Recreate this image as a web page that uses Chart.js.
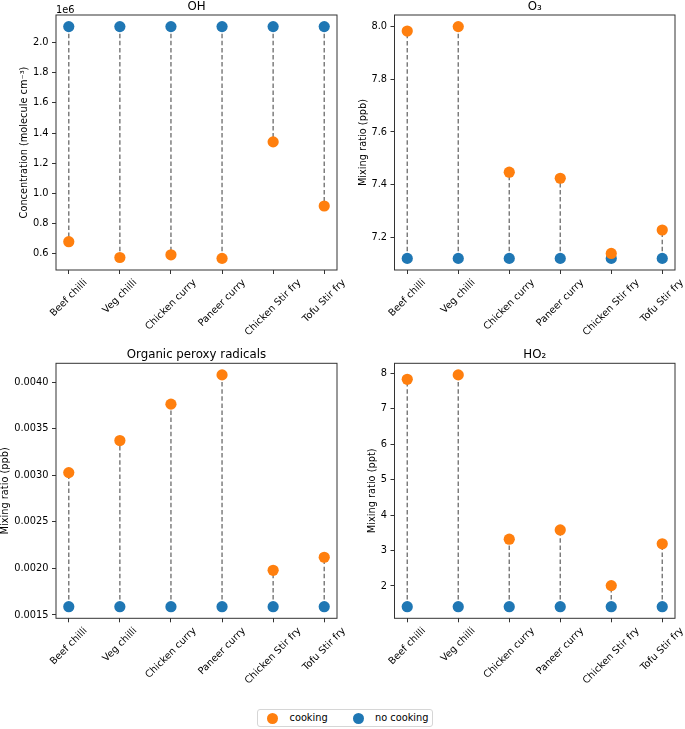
<!DOCTYPE html>
<html>
<head>
<meta charset="utf-8">
<script src="https://cdn.jsdelivr.net/npm/chart.js@4/dist/chart.umd.min.js"></script>
<style>
  html, body { margin:0; padding:0; background:#fff; }
  #wrap { position:relative; width:685px; height:729px; overflow:hidden; background:#fff; }
  canvas { position:absolute; }
  #legend { position:absolute; left:257px; top:709px; width:175.5px; height:17.5px; border:1px solid #d6d6d6; border-radius:3px; font-family:"DejaVu Sans"; font-size:9.8px; color:#000; box-sizing:border-box; }
  #legend .dot { position:absolute; width:11px; height:11px; border-radius:50%; top:2.5px; }
  #legend .lab { position:absolute; top:2px; line-height:12px; white-space:nowrap; }
</style>
</head>
<body>
<div id="wrap">
  <canvas id="c1" width="360" height="350" style="left:0px;top:0px"></canvas>
  <canvas id="c2" width="343" height="350" style="left:342px;top:0px"></canvas>
  <canvas id="c3" width="360" height="360" style="left:0px;top:340px"></canvas>
  <canvas id="c4" width="343" height="360" style="left:342px;top:340px"></canvas>
  <div id="legend">
    <div class="dot" style="left:9px;background:#ff7f0e"></div>
    <div class="lab" style="left:31.5px">cooking</div>
    <div class="dot" style="left:94.5px;background:#1f77b4"></div>
    <div class="lab" style="left:117px">no cooking</div>
  </div>
</div>
<script>
// ---- data ----
const categories = ['Beef chilli', 'Veg chilli', 'Chicken curry', 'Paneer curry', 'Chicken Stir fry', 'Tofu Stir fry'];

const ohCooking   = [0.678e6, 0.573e6, 0.591e6, 0.567e6, 1.341e6, 0.915e6];
const ohNoCooking = [2.107e6, 2.107e6, 2.107e6, 2.107e6, 2.107e6, 2.107e6];
const ohTicks     = [0.6e6, 0.8e6, 1.0e6, 1.2e6, 1.4e6, 1.6e6, 1.8e6, 2.0e6];

const o3Cooking   = [7.984, 8.001, 7.447, 7.424, 7.138, 7.227];
const o3NoCooking = [7.119, 7.119, 7.119, 7.119, 7.119, 7.119];
const o3Ticks     = [7.2, 7.4, 7.6, 7.8, 8.0];

const roxCooking   = [0.003029, 0.003373, 0.003764, 0.004078, 0.00198, 0.00212];
const roxNoCooking = [0.001589, 0.001589, 0.001589, 0.001589, 0.001589, 0.001589];
const roxTicks     = [0.0015, 0.0020, 0.0025, 0.0030, 0.0035, 0.0040];

const ho2Cooking   = [7.83, 7.955, 3.32, 3.58, 2.01, 3.19];
const ho2NoCooking = [1.415, 1.415, 1.415, 1.415, 1.415, 1.415];
const ho2Ticks     = [2, 3, 4, 5, 6, 7, 8];

// ---- styling ----
const FONT = '"DejaVu Sans"';
const TICK_SIZE = 9.8;
const TITLE_SIZE = 11.8;
const ORANGE = '#ff7f0e';
const BLUE = '#1f77b4';

const panelPlugin = {
  id: 'panelDeco',
  afterDraw(chart, args, opts) {
    const { ctx, chartArea: a } = chart;
    ctx.save();
    // frame
    ctx.strokeStyle = '#333';
    ctx.lineWidth = 1;
    ctx.strokeRect(a.left, a.top, a.right - a.left, a.bottom - a.top);
    // title
    ctx.fillStyle = '#000';
    ctx.font = TITLE_SIZE + 'px ' + FONT;
    ctx.textAlign = 'center';
    ctx.textBaseline = 'middle';
    ctx.fillText(opts.title, (a.left + a.right) / 2, a.top - 8.3);
    // offset text
    if (opts.offsetText) {
      ctx.font = TICK_SIZE + 'px ' + FONT;
      ctx.textAlign = 'left';
      ctx.textBaseline = 'alphabetic';
      ctx.fillText(opts.offsetText, a.left, a.top - 2.3);
    }
    // rotated x tick labels (centered on tick)
    const xs = chart.scales.x;
    ctx.font = TICK_SIZE + 'px ' + FONT;
    ctx.textAlign = 'center';
    ctx.textBaseline = 'middle';
    const lh = TICK_SIZE * 1.17;
    categories.forEach((c, i) => {
      const px = xs.getPixelForValue(i);
      const w = ctx.measureText(c).width;
      const H = (w + lh) * Math.SQRT1_2;
      ctx.save();
      ctx.translate(px, a.bottom + 7 + H / 2);
      ctx.rotate(-Math.PI / 4);
      ctx.fillText(c, 0, 0);
      ctx.restore();
    });
    ctx.restore();
  }
};

function makePanel(id, cfg) {
  const all = cfg.cooking.concat(cfg.noCooking);
  const lo = Math.min(...all), hi = Math.max(...all);
  const m = (hi - lo) * 0.05;
  const pts = arr => arr.map((v, i) => ({ x: i, y: v }));
  const dashPts = [];
  categories.forEach((c, i) => {
    dashPts.push({ x: i, y: cfg.noCooking[i] });
    dashPts.push({ x: i, y: cfg.cooking[i] });
    dashPts.push({ x: i, y: null });
  });
  return new Chart(document.getElementById(id), {
    type: 'scatter',
    data: {
      datasets: [
        { label: 'cooking', data: pts(cfg.cooking), backgroundColor: ORANGE, borderColor: ORANGE, borderWidth: 0, pointRadius: 5.6, pointHoverRadius: 5.6 },
        { label: 'no cooking', data: pts(cfg.noCooking), backgroundColor: BLUE, borderColor: BLUE, borderWidth: 0, pointRadius: 5.6, pointHoverRadius: 5.6 },
        { label: 'link', data: dashPts, showLine: true, spanGaps: false, borderColor: '#757575', borderWidth: 1.4, borderDash: [4.5, 2.6], pointRadius: 0, fill: false }
      ]
    },
    options: {
      responsive: false,
      animation: false,
      events: [],
      layout: { padding: cfg.padding },
      plugins: {
        legend: { display: false },
        tooltip: { enabled: false },
        title: { display: false },
        panelDeco: { title: cfg.title, offsetText: cfg.offsetText }
      },
      scales: {
        x: {
          type: 'linear',
          min: -0.25,
          max: 5.25,
          afterBuildTicks: s => { s.ticks = categories.map((c, i) => ({ value: i })); },
          afterFit: s => { s.height = cfg.xHeight; },
          ticks: { display: false },
          grid: { drawOnChartArea: false, drawTicks: true, tickLength: 4, tickColor: '#333', tickWidth: 1 },
          border: { display: false }
        },
        y: {
          type: 'linear',
          min: lo - m,
          max: hi + m,
          afterBuildTicks: s => { s.ticks = cfg.ticks.map(v => ({ value: v })); },
          afterFit: s => { s.width = cfg.yWidth; },
          ticks: { callback: cfg.fmt, font: { family: 'DejaVu Sans', size: TICK_SIZE }, color: '#000', padding: 3.5, autoSkip: false },
          grid: { drawOnChartArea: false, drawTicks: true, tickLength: 4, tickColor: '#333', tickWidth: 1 },
          border: { display: false },
          title: { display: true, text: cfg.yLabel, color: '#000', font: { family: 'DejaVu Sans', size: TICK_SIZE }, padding: { top: cfg.yTitlePad, bottom: 0 } }
        }
      }
    },
    plugins: [panelPlugin]
  });
}

makePanel('c1', {
  title: 'OH', offsetText: '1e6', yLabel: 'Concentration (molecule cm\u207B\u00B3)',
  cooking: ohCooking, noCooking: ohNoCooking, ticks: ohTicks,
  fmt: v => (v / 1e6).toFixed(1),
  padding: { left: 0, top: 15, right: 23, bottom: 0 }, yWidth: 56, xHeight: 80, yTitlePad: 18.1
});
makePanel('c2', {
  title: 'O\u2083', yLabel: 'Mixing ratio (ppb)',
  cooking: o3Cooking, noCooking: o3NoCooking, ticks: o3Ticks,
  fmt: v => v.toFixed(1),
  padding: { left: 0, top: 15, right: 10, bottom: 0 }, yWidth: 52.5, xHeight: 80, yTitlePad: 15.4
});
makePanel('c3', {
  title: 'Organic peroxy radicals', yLabel: 'Mixing ratio (ppb)',
  cooking: roxCooking, noCooking: roxNoCooking, ticks: roxTicks,
  fmt: v => v.toFixed(4),
  padding: { left: 0, top: 23.3, right: 23, bottom: 0 }, yWidth: 56, xHeight: 81.7, yTitlePad: 0
});
makePanel('c4', {
  title: 'HO\u2082', yLabel: 'Mixing ratio (ppt)',
  cooking: ho2Cooking, noCooking: ho2NoCooking, ticks: ho2Ticks,
  fmt: v => v.toFixed(0),
  padding: { left: 0, top: 23.3, right: 10, bottom: 0 }, yWidth: 52.5, xHeight: 81.7, yTitlePad: 24.4
});
</script>
</body>
</html>
